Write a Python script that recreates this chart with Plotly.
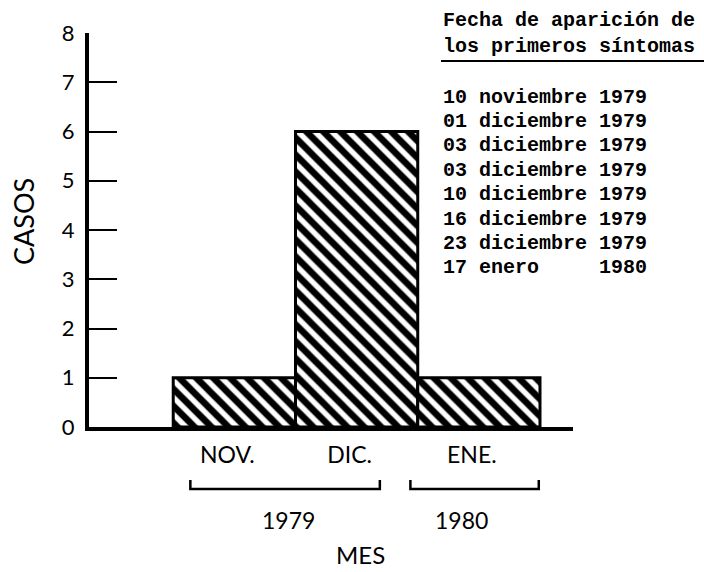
import plotly.graph_objects as go

# ---- data ----
months = ["NOV.", "DIC.", "ENE."]
cases = [1, 6, 1]
month_pos = [1, 2, 3]
years = ["1979", "1980"]
y_ticks = [0, 1, 2, 3, 4, 5, 6, 7, 8]
header_lines = ["Fecha de aparición de", "los primeros síntomas"]
onset_dates = [
    "10 noviembre 1979",
    "01 diciembre 1979",
    "03 diciembre 1979",
    "03 diciembre 1979",
    "10 diciembre 1979",
    "16 diciembre 1979",
    "23 diciembre 1979",
    "17 enero     1980",
]

# ---- layout geometry (pixels) ----
W, H = 704, 572
L, R, T, B = 89, 131, 33, 145
PW, PH = W - L - R, H - T - B


def px_x(x):
    return (x - L) / PW


def px_y(y):
    return (H - B - y) / PH


SANS = "Lato, 'Noto Sans', sans-serif"
MONO = "'Liberation Mono', 'DejaVu Sans Mono', monospace"

fig = go.Figure()
fig.add_trace(go.Bar(
    x=month_pos, y=cases, width=1,
    marker=dict(color="white",
                line=dict(color="black", width=3),
                pattern=dict(shape="\\", fgcolor="black", bgcolor="white",
                             fgopacity=1, size=12, solidity=0.55)),
    hoverinfo="skip",
))

shapes = []
# year brackets (x in data units, y in paper)
bracket_spans = [(0.64, 2.19), (2.44, 3.49)]
y_low, y_high = px_y(489), px_y(480)
for x0, x1 in bracket_spans:
    shapes.append(dict(type="path", xref="x", yref="paper",
                       path=f"M {x0},{y_high} L {x0},{y_low} L {x1},{y_low} L {x1},{y_high}",
                       line=dict(color="black", width=2.5)))
# underline of header
shapes.append(dict(type="line", xref="paper", yref="paper",
                   x0=px_x(441), x1=px_x(704), y0=px_y(61), y1=px_y(61),
                   line=dict(color="black", width=2)))

annotations = []
year_x = [1.44, 2.86]
for yr, xx in zip(years, year_x):
    annotations.append(dict(text=yr, x=xx, y=px_y(520), xref="x", yref="paper",
                            xanchor="center", yanchor="middle",
                            showarrow=False, font=dict(family=SANS, size=23, color="black")))
annotations.append(dict(text="MES", x=2.03, y=px_y(554), xref="x", yref="paper",
                        xanchor="center", yanchor="middle",
                        showarrow=False, font=dict(family=SANS, size=24, color="black")))
annotations.append(dict(text="CASOS", x=px_x(23), y=px_y(222), xref="paper", yref="paper",
                        xanchor="center", yanchor="middle",
                        textangle=-90, showarrow=False,
                        font=dict(family=SANS, size=27, color="black")))
for i, line in enumerate(header_lines):
    annotations.append(dict(text=f"<b>{line}</b>", x=px_x(441), y=px_y(20 + 26 * i),
                            xref="paper", yref="paper", xanchor="left", yanchor="middle",
                            showarrow=False, font=dict(family=MONO, size=20, color="black")))
for i, line in enumerate(onset_dates):
    annotations.append(dict(text="<b>" + line.replace(" ", "\u00a0") + "</b>",
                            x=px_x(441), y=px_y(97 + 24.4 * i),
                            xref="paper", yref="paper", xanchor="left", yanchor="middle",
                            showarrow=False, font=dict(family=MONO, size=20, color="black")))

fig.update_layout(
    width=W, height=H,
    margin=dict(l=L, r=R, t=T, b=B),
    paper_bgcolor="white", plot_bgcolor="white",
    showlegend=False,
    shapes=shapes, annotations=annotations,
    xaxis=dict(range=[-0.189, 3.77], showgrid=False, zeroline=False,
               showline=True, linecolor="black", linewidth=4,
               tickvals=month_pos, ticktext=months, ticks="",
               ticklabelstandoff=4, ticklabelshift=-7,
               tickfont=dict(family=SANS, size=23, color="black"),
               automargin=False, fixedrange=True),
    yaxis=dict(range=[0, 8], showgrid=False, zeroline=False,
               showline=True, linecolor="black", linewidth=4,
               tickvals=y_ticks, ticks="inside", ticklen=28, tickwidth=2,
               tickcolor="black", ticklabelstandoff=6,
               tickfont=dict(family=SANS, size=22, color="black"),
               automargin=False, fixedrange=True),
)

fig.write_html("out.html", config={"displayModeBar": False},
               post_script="document.body.style.margin='0';document.body.style.overflow='hidden';")
